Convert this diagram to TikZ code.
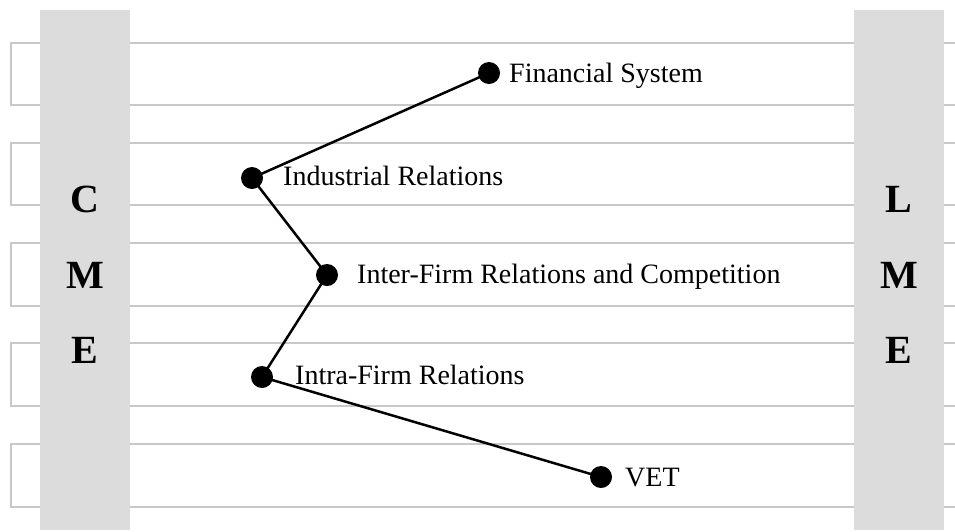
\documentclass[tikz,border=0pt]{standalone}
\usepackage{fontspec}
\setmainfont{Liberation Serif}
\definecolor{colgray}{RGB}{220,220,220}
\definecolor{bandline}{RGB}{200,200,200}
\begin{document}
\begin{tikzpicture}[x=1pt,y=-1pt,
  band/.style={draw=bandline,line width=1.3pt},
  column/.style={fill=colgray,draw=none},
  dot/.style={circle,fill=black,inner sep=0pt,minimum size=22pt},
  lbl/.style={anchor=base west,inner sep=0pt,font=\fontsize{28}{32}\selectfont},
  big/.style={anchor=base,inner sep=0pt,font=\fontsize{40}{44}\selectfont\bfseries},
  link/.style={draw=black,line width=2.5pt}]
\useasboundingbox (0,0) rectangle (955,531);
\begin{scope}
\clip (0,0) rectangle (955,531);
\foreach \t/\b in {43/105,143/205,243/306,343/406,444/507}{
  \draw[band] (970,\t) -- (11,\t) -- (11,\b) -- (970,\b);
}
\end{scope}
\fill[column] (40,10) rectangle (130,530);
\fill[column] (854,10) rectangle (944,530);
\node[big] (c1) at (85,212) {C};
\node[big] (c2) at (85,288) {M};
\node[big] (c3) at (85,363) {E};
\node[big] (l1) at (899,212) {L};
\node[big] (l2) at (899,288) {M};
\node[big] (l3) at (899,363) {E};
\node[dot] (fs) at (489,73) {};
\node[dot] (ir) at (252,178) {};
\node[dot] (ifc) at (327,275) {};
\node[dot] (intra) at (262,377) {};
\node[dot] (vet) at (601,477) {};
\draw[link] (fs.center) -- (ir.center) -- (ifc.center) -- (intra.center) -- (vet.center);
\node[lbl] (tfs) at (509,82) {Financial System};
\node[lbl] (tir) at (283,185) {Industrial Relations};
\node[lbl] (tifc) at (357,283) {Inter-Firm Relations and Competition};
\node[lbl] (tintra) at (295,384) {Intra-Firm Relations};
\node[lbl] (tvet) at (625,486) {VET};
\end{tikzpicture}
\end{document}
